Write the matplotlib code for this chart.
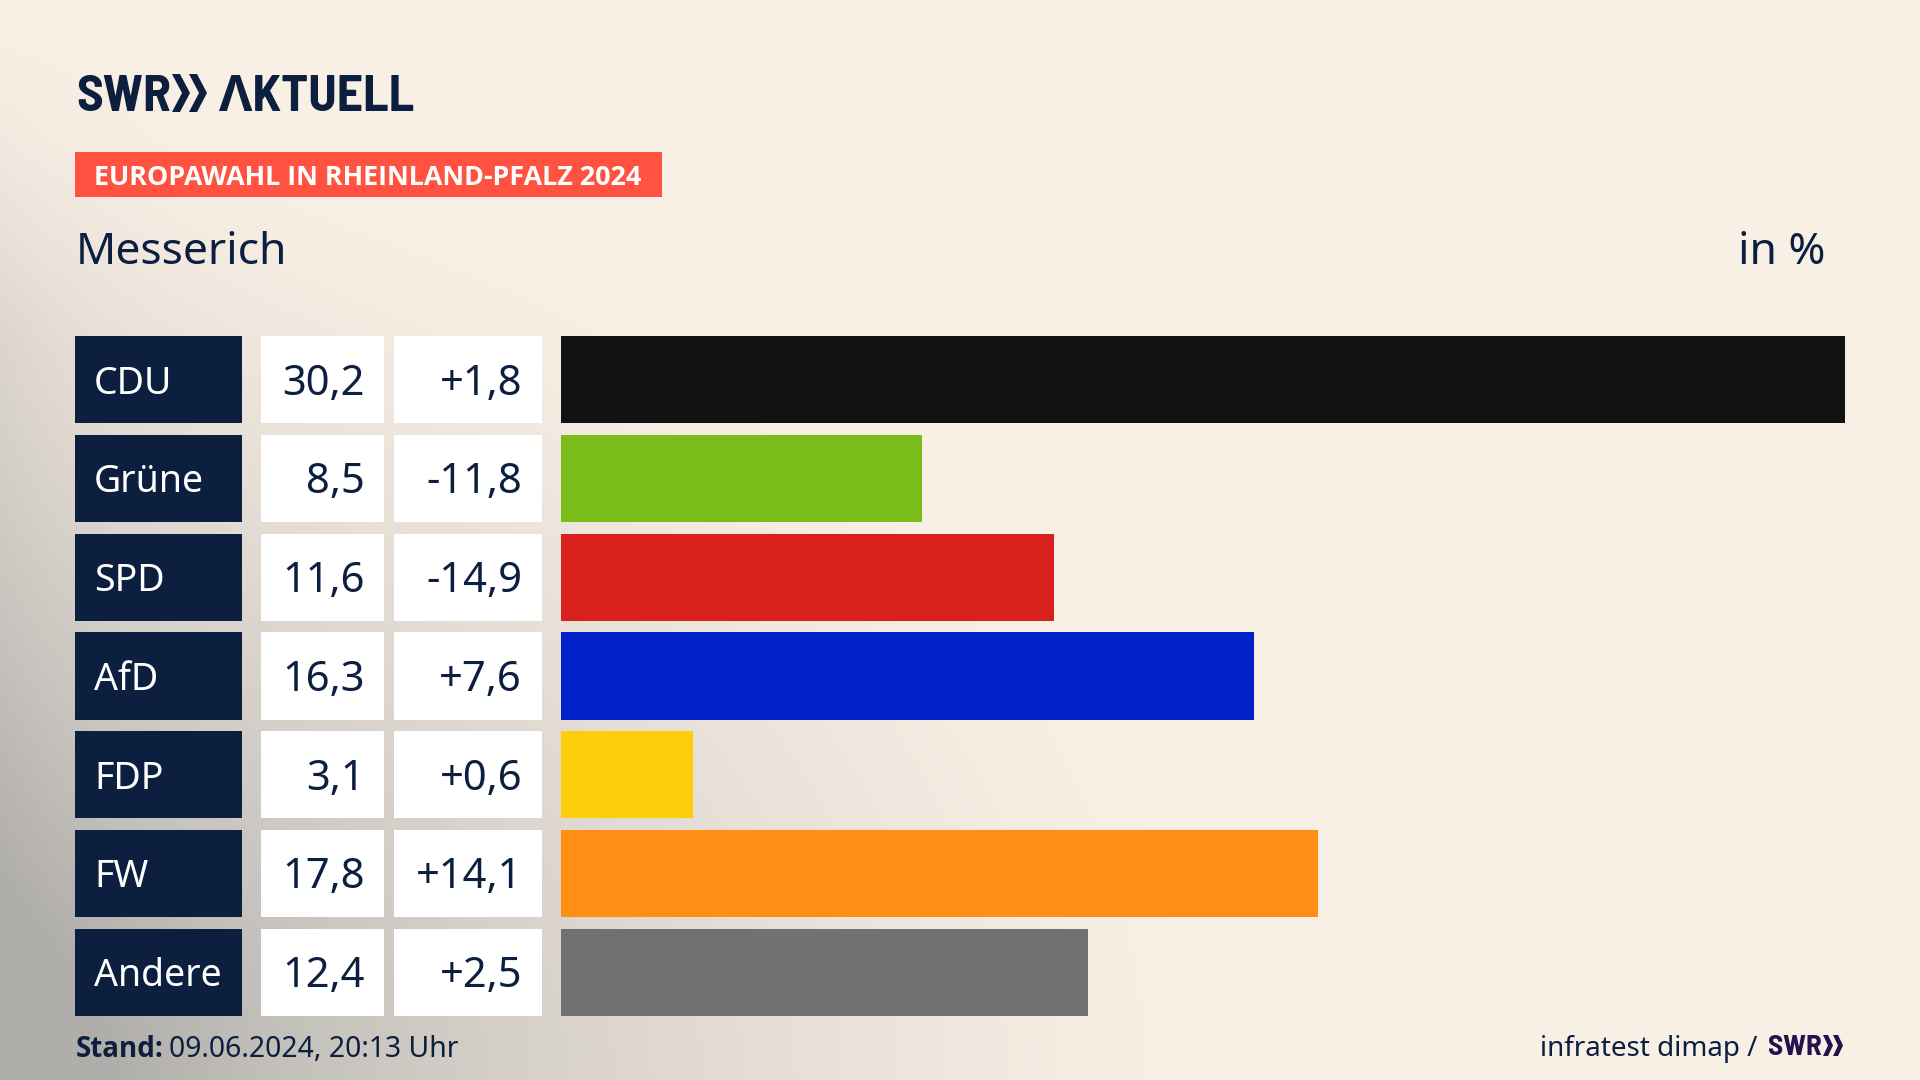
import numpy as np
import matplotlib
matplotlib.use("Agg")
import matplotlib.pyplot as plt
from matplotlib.patches import Polygon, Rectangle

parties = ["CDU", "Grüne", "SPD", "AfD", "FDP", "FW", "Andere"]
results = [30.2, 8.5, 11.6, 16.3, 3.1, 17.8, 12.4]
changes = ["+1,8", "-11,8", "-14,9", "+7,6", "+0,6", "+14,1", "+2,5"]
bar_colors = ["#121212", "#7abd1b", "#d8201c", "#0020c8", "#ffce0a", "#ff8e15", "#707172"]

NAVY = "#0c1f3f"
PURPLE = "#24124d"
W, H = 1920, 1080
plt.rcParams["font.family"] = ["Noto Sans", "DejaVu Sans"]


def px_axes(fig, x0, y0, x1, y1):
    # rectangle in image pixels, y from the top
    return fig.add_axes([x0 / W, 1 - y1 / H, (x1 - x0) / W, (y1 - y0) / H])


def chevrons(ax, xs, top, bottom, arm, depth, color):
    mid = (top + bottom) / 2
    for x in xs:
        ax.add_patch(Polygon([(x, top), (x + arm, top), (x + arm + depth, mid), (x + arm, bottom), (x, bottom), (x + depth, mid)],
                             fc=color, ec="none"))


fig = plt.figure(figsize=(19.2, 10.8), dpi=100)

# background, cream with a grey glow from the lower left corner
bg = px_axes(fig, 0, 0, W, H)
xx, yy = np.meshgrid(np.linspace(0, W, 480), np.linspace(0, H, 270))
dist = np.sqrt((xx / 1250) ** 2 + ((H - yy) / 950) ** 2)
glow = np.clip(1 - dist, 0, 1) ** 1.35
glow = glow + 0.28 * np.exp(-xx / 130) * np.clip(yy / 340, 0, 1)
glow = np.clip(glow, 0, 1)
cream = np.array([250, 241, 230]) / 255
grey = np.array([176, 174, 171]) / 255
bg.imshow(cream + glow[..., None] * (grey - cream), extent=(0, W, H, 0), aspect="auto", interpolation="bilinear")
bg.set_xlim(0, W)
bg.set_ylim(H, 0)
bg.axis("off")

# header
logo_font = dict(family=["Barlow Semi Condensed", "Open Sans"], stretch="condensed", weight="bold", va="baseline")
bg.text(76, 111, "SWR", fontsize=37, color=NAVY, **logo_font)
bg.text(219, 111, "ΛKTUELL", fontsize=37, color=NAVY, **logo_font)
chevrons(bg, (172, 189), 74, 112, 8, 10, NAVY)

bg.add_patch(Rectangle((75, 152), 587, 45, fc="#ff5240", ec="none"))
bg.text(94, 185, "EUROPAWAHL IN RHEINLAND-PFALZ 2024", family="Open Sans", weight="bold", fontsize=19.4,
        color="white", va="baseline")
bg.text(76, 264, "Messerich", fontsize=32, color=NAVY, va="baseline")
bg.text(1825, 264, "in %", fontsize=32, color=NAVY, ha="right", va="baseline")

# table cells left of the bars, same row scale as the bars
row_h = 0.885
rows = np.arange(len(parties))
tb = px_axes(fig, 75, 336, 542, 1016)
tb.barh(rows, 167, left=75, height=row_h, color=NAVY)
tb.barh(rows, 123, left=261, height=row_h, color="white")
tb.barh(rows, 148, left=394, height=row_h, color="white")
tb.set_xlim(75, 542)
tb.set_ylim(6 + row_h / 2, -row_h / 2)
tb.axis("off")
for i in rows:
    tb.text(94, i + 0.14, parties[i], fontsize=27, color="white", va="baseline")
    tb.text(365, i + 0.15, f"{results[i]:.1f}".replace(".", ","), fontsize=30, color=NAVY, ha="right", va="baseline")
    tb.text(522, i + 0.15, changes[i], fontsize=30, color=NAVY, ha="right", va="baseline")

# bars
ax = px_axes(fig, 561, 336, 1845, 1016)
ax.barh(rows, results, height=row_h, color=bar_colors)
ax.set_xlim(0, max(results))
ax.set_ylim(6 + row_h / 2, -row_h / 2)
ax.axis("off")

# footer
bg.text(76, 1057, "Stand:", family="Open Sans", weight="bold", fontsize=20, color=NAVY, va="baseline")
bg.text(169, 1057, "09.06.2024, 20:13 Uhr", fontsize=20.4, color=NAVY, va="baseline")
bg.text(1757, 1056, "infratest dimap /", fontsize=20, color=NAVY, ha="right", va="baseline")
bg.text(1768, 1055, "SWR", fontsize=21, color=PURPLE, **logo_font)
chevrons(bg, (1823, 1833), 1035, 1056, 5, 5, PURPLE)

fig.savefig("out.png", dpi=100)
